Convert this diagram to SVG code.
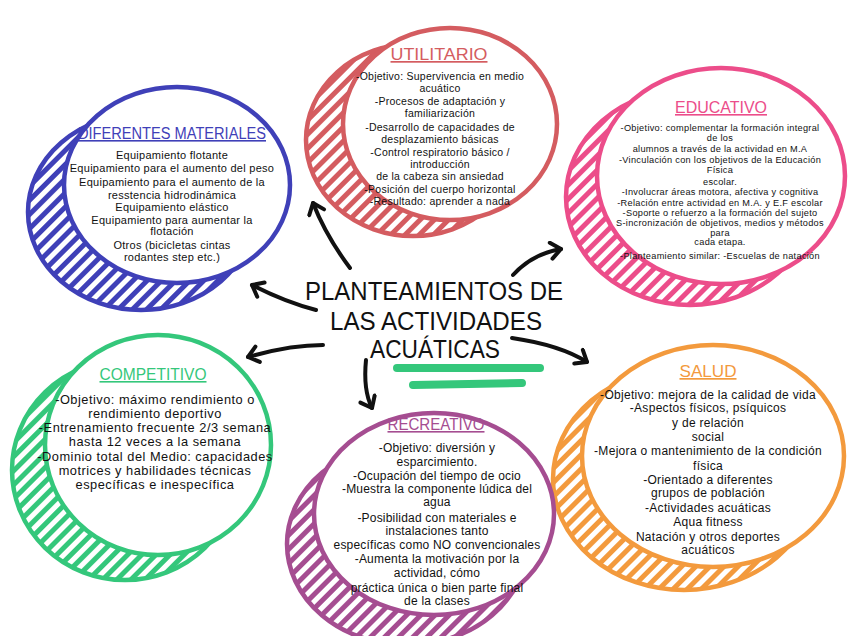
<svg xmlns="http://www.w3.org/2000/svg" width="848" height="636" viewBox="0 0 848 636">
<style>
.ring{stroke-width:4.5}
.front{fill:#fff;stroke-width:4.5}
.t{font-family:"Liberation Sans",Arial,sans-serif;fill:#111;text-anchor:middle}
.ttl{font-family:"Liberation Sans",Arial,sans-serif;text-anchor:middle;text-decoration:underline}
.main{font-family:"Liberation Sans",Arial,sans-serif;fill:#111;text-anchor:middle;font-size:25px}
.arr{fill:none;stroke:#111;stroke-width:4;stroke-linecap:round}
</style>
<defs>
<pattern id="hRed" patternUnits="userSpaceOnUse" width="10" height="10" patternTransform="rotate(45)"><rect width="10" height="10" fill="#fff"/><rect width="5" height="10" fill="#d45c60"/></pattern>
<pattern id="hPink" patternUnits="userSpaceOnUse" width="10" height="10" patternTransform="rotate(45)"><rect width="10" height="10" fill="#fff"/><rect width="5" height="10" fill="#ec4d8a"/></pattern>
<pattern id="hBlue" patternUnits="userSpaceOnUse" width="10" height="10" patternTransform="rotate(45)"><rect width="10" height="10" fill="#fff"/><rect width="5" height="10" fill="#3f40b8"/></pattern>
<pattern id="hGreen" patternUnits="userSpaceOnUse" width="10" height="10" patternTransform="rotate(45)"><rect width="10" height="10" fill="#fff"/><rect width="5" height="10" fill="#34c77b"/></pattern>
<pattern id="hOrange" patternUnits="userSpaceOnUse" width="10" height="10" patternTransform="rotate(45)"><rect width="10" height="10" fill="#fff"/><rect width="5" height="10" fill="#f39a3d"/></pattern>
<pattern id="hPurple" patternUnits="userSpaceOnUse" width="10" height="10" patternTransform="rotate(45)"><rect width="10" height="10" fill="#fff"/><rect width="5" height="10" fill="#a54d91"/></pattern>
<marker id="ah" markerUnits="userSpaceOnUse" markerWidth="24" markerHeight="24" refX="13" refY="10" orient="auto"><path d="M3,2 L13,10 L3,18" fill="none" stroke="#111" stroke-width="4" stroke-linecap="round" stroke-linejoin="round"/></marker>
</defs>
<rect width="848" height="636" fill="#fff"/>

<g id="utilitario">
<ellipse class="ring" cx="413" cy="140" rx="107" ry="96" fill="url(#hRed)" stroke="#d45c60"/>
<ellipse class="front" cx="450" cy="124" rx="107" ry="96" stroke="#d45c60"/>
<text class="ttl" x="439" y="60" font-size="17" fill="#d45c60" textLength="97" lengthAdjust="spacingAndGlyphs">UTILITARIO</text>
<g class="t" font-size="10.5" letter-spacing="0.25">
<text x="440" y="80">-Objetivo: Supervivencia en medio</text>
<text x="440" y="92">acuático</text>
<text x="440" y="105">-Procesos de adaptación y</text>
<text x="440" y="117">familiarización</text>
<text x="440" y="131">-Desarrollo de capacidades de</text>
<text x="440" y="143">desplazamiento básicas</text>
<text x="440" y="156">-Control respiratorio básico /</text>
<text x="440" y="168">introducción</text>
<text x="440" y="180">de la cabeza sin ansiedad</text>
<text x="440" y="193">-Posición del cuerpo horizontal</text>
<text x="440" y="205">-Resultado: aprender a nada</text>
</g>
</g>

<g id="educativo">
<ellipse class="ring" cx="690" cy="197" rx="124" ry="108" fill="url(#hPink)" stroke="#ec4d8a"/>
<ellipse class="front" cx="721" cy="176" rx="124" ry="108" stroke="#ec4d8a"/>
<text class="ttl" x="721" y="113" font-size="16" fill="#ec4d8a" textLength="92" lengthAdjust="spacingAndGlyphs">EDUCATIVO</text>
<g class="t" font-size="9.2" letter-spacing="0.3">
<text x="720" y="131">-Objetivo: complementar la formación integral</text>
<text x="720" y="141">de los</text>
<text x="720" y="152">alumnos a través de la actividad en M.A</text>
<text x="720" y="163">-Vinculación con los objetivos de la Educación</text>
<text x="720" y="173">Física</text>
<text x="720" y="185">escolar.</text>
<text x="720" y="195">-Involucrar áreas motora, afectiva y cognitiva</text>
<text x="720" y="206">-Relación entre actividad en M.A. y E.F escolar</text>
<text x="720" y="216">-Soporte o refuerzo a la formación del sujeto</text>
<text x="720" y="226">S-incronización de objetivos, medios y métodos</text>
<text x="720" y="236">para</text>
<text x="720" y="245">cada etapa.</text>
<text x="720" y="259">-Planteamiento similar: -Escuelas de natación</text>
</g>
</g>

<g id="diferentes-materiales">
<ellipse class="ring" cx="141" cy="212" rx="113" ry="98" fill="url(#hBlue)" stroke="#3f40b8"/>
<ellipse class="front" cx="177" cy="185" rx="113" ry="98" stroke="#3f40b8"/>
<text class="ttl" x="172" y="139" font-size="16" fill="#3f40b8" textLength="188" lengthAdjust="spacingAndGlyphs">DIFERENTES MATERIALES</text>
<g class="t" font-size="11" letter-spacing="0.27">
<text x="172" y="159">Equipamiento flotante</text>
<text x="172" y="172">Equipamiento para el aumento del peso</text>
<text x="172" y="186">Equipamiento para el aumento de la</text>
<text x="172" y="199">resstencia hidrodinámica</text>
<text x="172" y="211">Equipamiento elástico</text>
<text x="172" y="224">Equipamiento para aumentar la</text>
<text x="172" y="235">flotación</text>
<text x="172" y="249">Otros (bicicletas cintas</text>
<text x="172" y="261">rodantes step etc.)</text>
</g>
</g>

<g id="competitivo">
<ellipse class="ring" cx="125" cy="470" rx="113" ry="110" fill="url(#hGreen)" stroke="#34c77b"/>
<ellipse class="front" cx="158" cy="445" rx="113" ry="110" stroke="#34c77b"/>
<text class="ttl" x="153" y="380" font-size="16" fill="#34c77b" textLength="107" lengthAdjust="spacingAndGlyphs">COMPETITIVO</text>
<g class="t" font-size="12.8" letter-spacing="0.5">
<text x="155" y="404">-Objetivo: máximo rendimiento o</text>
<text x="155" y="418">rendimiento deportivo</text>
<text x="155" y="432">-Entrenamiento frecuente 2/3 semana</text>
<text x="155" y="446">hasta 12 veces a la semana</text>
<text x="155" y="461">-Dominio total del Medio: capacidades</text>
<text x="155" y="475">motrices y habilidades técnicas</text>
<text x="155" y="489">específicas e inespecífica</text>
</g>
</g>

<g id="salud">
<ellipse class="ring" cx="684" cy="479" rx="131" ry="111" fill="url(#hOrange)" stroke="#f39a3d"/>
<ellipse class="front" cx="713" cy="456" rx="131" ry="111" stroke="#f39a3d"/>
<text class="ttl" x="708" y="377" font-size="17" fill="#f39a3d" textLength="57" lengthAdjust="spacingAndGlyphs">SALUD</text>
<g class="t" font-size="12" letter-spacing="0.3">
<text x="708" y="399">-Objetivo: mejora de la calidad de vida</text>
<text x="708" y="412">-Aspectos físicos, psíquicos</text>
<text x="708" y="427">y de relación</text>
<text x="708" y="441">social</text>
<text x="708" y="455">-Mejora o mantenimiento de la condición</text>
<text x="708" y="469.5">física</text>
<text x="708" y="484">-Orientado a diferentes</text>
<text x="708" y="497">grupos de población</text>
<text x="708" y="512">-Actividades acuáticas</text>
<text x="708" y="526">Aqua fitness</text>
<text x="708" y="541">Natación y otros deportes</text>
<text x="708" y="554">acuáticos</text>
</g>
</g>

<g id="recreativo">
<ellipse class="ring" cx="407" cy="544" rx="120" ry="101" fill="url(#hPurple)" stroke="#a54d91"/>
<ellipse class="front" cx="434" cy="514" rx="120" ry="101" stroke="#a54d91"/>
<text class="ttl" x="436" y="430" font-size="16" fill="#a54d91" textLength="97" lengthAdjust="spacingAndGlyphs">RECREATIVO</text>
<g class="t" font-size="12" letter-spacing="0.2">
<text x="437" y="452">-Objetivo:  diversión y</text>
<text x="437" y="466">esparcimiento.</text>
<text x="437" y="480">-Ocupación del tiempo de ocio</text>
<text x="437" y="493">-Muestra la componente lúdica del</text>
<text x="437" y="506">agua</text>
<text x="437" y="522">-Posibilidad con materiales e</text>
<text x="437" y="535">instalaciones tanto</text>
<text x="437" y="549">específicas como NO convencionales</text>
<text x="437" y="563">-Aumenta la motivación por la</text>
<text x="437" y="577">actividad, cómo</text>
<text x="437" y="592">práctica única o bien parte final</text>
<text x="437" y="605">de la clases</text>
</g>
</g>

<g id="center">
<text class="main" x="434" y="300" textLength="258" lengthAdjust="spacingAndGlyphs">PLANTEAMIENTOS DE</text>
<text class="main" x="436" y="330" textLength="212" lengthAdjust="spacingAndGlyphs">LAS ACTIVIDADES</text>
<text class="main" x="435" y="358" textLength="130" lengthAdjust="spacingAndGlyphs">ACUÁTICAS</text>
<path d="M397,368 L540,368" stroke="#34c77b" stroke-width="8" stroke-linecap="round" fill="none"/>
<path d="M413,385 L522,383" stroke="#34c77b" stroke-width="8" stroke-linecap="round" fill="none"/>
</g>

<g id="connectors">
<path class="arr" d="M350,268 Q326,236 313,203" marker-end="url(#ah)"/>
<path class="arr" d="M316,310 Q285,302 252,285" marker-end="url(#ah)"/>
<path class="arr" d="M323,345 Q290,345 248,357" marker-end="url(#ah)"/>
<path class="arr" d="M366,360 Q363,390 372,408" marker-end="url(#ah)"/>
<path class="arr" d="M512,338 Q560,345 587,362" marker-end="url(#ah)"/>
<path class="arr" d="M513,275 Q532,254 561,249" marker-end="url(#ah)"/>
</g>
</svg>
